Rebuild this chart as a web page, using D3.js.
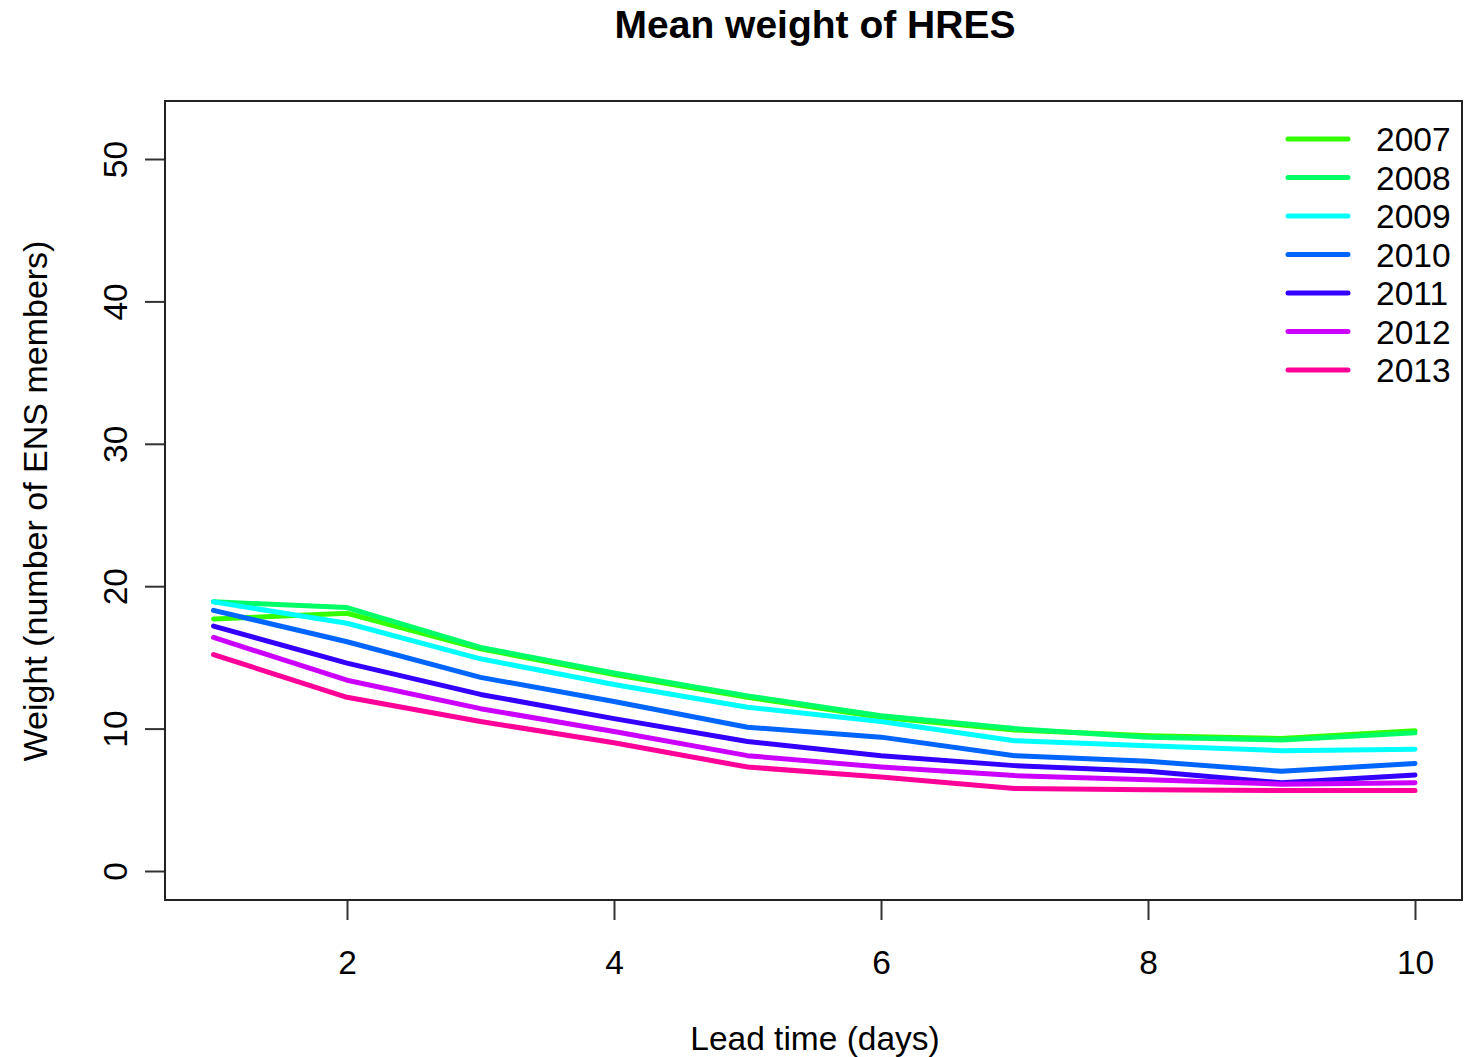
<!DOCTYPE html>
<html>
<head>
<meta charset="utf-8">
<script src="https://cdn.jsdelivr.net/npm/d3@7"></script>
<style>
  html, body { margin: 0; padding: 0; background: #fff; }
  svg { display: block; font-family: "Liberation Sans", Arial, sans-serif; }
</style>
</head>
<body>
<svg id="chart" width="1478" height="1057"></svg>
<script>
// Lead time in days
const leadTimes = [1, 2, 3, 4, 5, 6, 7, 8, 9, 10];

// Mean HRES weight (number of ENS members) per year
const years = ["2007", "2008", "2009", "2010", "2011", "2012", "2013"];
const w2007 = [17.7, 18.1, 15.6, 13.8, 12.2, 10.8, 9.9, 9.5, 9.3, 9.85];
const w2008 = [18.9, 18.5, 15.7, 13.9, 12.3, 10.9, 10.0, 9.4, 9.2, 9.7];
const w2009 = [18.9, 17.4, 14.9, 13.1, 11.5, 10.5, 9.15, 8.8, 8.45, 8.55];
const w2010 = [18.3, 16.1, 13.6, 11.9, 10.1, 9.4, 8.1, 7.7, 7.0, 7.55];
const w2011 = [17.2, 14.6, 12.4, 10.7, 9.1, 8.1, 7.4, 7.0, 6.2, 6.75];
const w2012 = [16.4, 13.4, 11.4, 9.8, 8.1, 7.3, 6.7, 6.4, 6.1, 6.2];
const w2013 = [15.2, 12.2, 10.5, 9.0, 7.3, 6.6, 5.8, 5.7, 5.65, 5.65];
const seriesValues = [w2007, w2008, w2009, w2010, w2011, w2012, w2013];
const colors = ["#33FF00", "#00FF66", "#00FFFF", "#0066FF", "#3300FF", "#CC00FF", "#FF0099"];

const xTicks = [2, 4, 6, 8, 10];
const yTicks = [0, 10, 20, 30, 40, 50];

const svg = d3.select("#chart");
const box = { left: 165, right: 1462, top: 101, bottom: 900 };

const x = d3.scaleLinear().domain([1, 10]).range([213.5, 1415]);
const y = d3.scaleLinear().domain([0, 50]).range([871, 159]);

const fontSize = 33.5;

// Title
svg.append("text")
  .attr("x", 815).attr("y", 38)
  .attr("text-anchor", "middle")
  .attr("font-size", 39).attr("font-weight", "bold")
  .text("Mean weight of HRES");

// X axis (ticks below the box)
const xAxis = d3.axisBottom(x).tickValues(xTicks).tickSize(20).tickPadding(30).tickFormat(d3.format("d"));
const gx = svg.append("g").attr("transform", `translate(0,${box.bottom})`).call(xAxis);
gx.select(".domain").remove();
gx.selectAll(".tick line").attr("stroke", "#333").attr("stroke-width", 2);
gx.selectAll(".tick text").attr("font-size", fontSize).attr("fill", "#000")
  .attr("font-family", "Liberation Sans, Arial, sans-serif");

// Y axis (ticks left of the box, labels rotated)
const yAxis = d3.axisLeft(y).tickValues(yTicks).tickSize(20).tickFormat(d3.format("d"));
const gy = svg.append("g").attr("transform", `translate(${box.left},0)`).call(yAxis);
gy.select(".domain").remove();
gy.selectAll(".tick line").attr("stroke", "#333").attr("stroke-width", 2);
gy.selectAll(".tick text")
  .attr("font-size", fontSize).attr("fill", "#000")
  .attr("font-family", "Liberation Sans, Arial, sans-serif")
  .attr("x", null)
  .attr("text-anchor", "middle")
  .attr("transform", "translate(-38,0) rotate(-90)")
  .attr("dy", "0");

// Plot frame
svg.append("rect")
  .attr("x", box.left).attr("y", box.top)
  .attr("width", box.right - box.left).attr("height", box.bottom - box.top)
  .attr("fill", "none").attr("stroke", "#222").attr("stroke-width", 2);

// Axis titles
svg.append("text")
  .attr("x", 815).attr("y", 1050)
  .attr("text-anchor", "middle").attr("font-size", fontSize)
  .text("Lead time (days)");
svg.append("text")
  .attr("transform", "translate(47,501) rotate(-90)")
  .attr("text-anchor", "middle").attr("font-size", 34)
  .text("Weight (number of ENS members)");

// Series lines
const line = d3.line().x((d, i) => x(leadTimes[i])).y(d => y(d));
svg.append("g").selectAll("path")
  .data(seriesValues)
  .join("path")
  .attr("d", line)
  .attr("fill", "none")
  .attr("stroke", (d, i) => colors[i])
  .attr("stroke-width", 5)
  .attr("stroke-linejoin", "round")
  .attr("stroke-linecap", "round");

// Legend
const legend = svg.append("g");
const legY = d3.scaleLinear().domain([0, years.length - 1]).range([139, 370]);
years.forEach((yr, i) => {
  legend.append("line")
    .attr("x1", 1288).attr("x2", 1348)
    .attr("y1", legY(i)).attr("y2", legY(i))
    .attr("stroke", colors[i]).attr("stroke-width", 5)
    .attr("stroke-linecap", "round");
  legend.append("text")
    .attr("x", 1376).attr("y", legY(i) + 12)
    .attr("font-size", fontSize)
    .text(yr);
});
</script>
</body>
</html>
